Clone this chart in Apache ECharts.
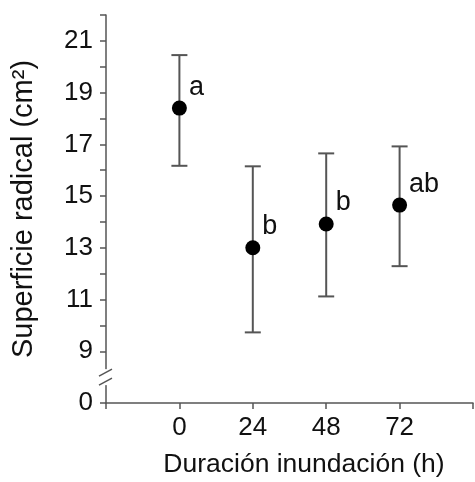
<!DOCTYPE html>
<html><head><meta charset="utf-8">
<script src="https://cdn.jsdelivr.net/npm/echarts@6/dist/echarts.min.js"></script>
<style>html,body{margin:0;padding:0;background:#fff}#c{width:475px;height:482px}</style>
</head><body><div id="c"></div>
<script>
const hours = [0, 24, 48, 72];
const means = [18.4, 13.0, 13.92, 14.65];
const upper = [20.45, 16.15, 16.65, 16.92];
const lower = [16.17, 9.73, 11.12, 12.29];
const letters = ['a', 'b', 'b', 'ab'];
const xTickLabels = [0, 24, 48, 72];
const yTickLabels = [0, 9, 11, 13, 15, 17, 19, 21];
const yBreak = [1, 8];

const FONT = '"Liberation Sans", Arial, sans-serif';
const AX = '#555';
const TXT = '#111';
const chart = echarts.init(document.getElementById('c'), null, {renderer: 'canvas'});

const option = {
  animation: false,
  backgroundColor: '#fff',
  grid: {left: 106, right: 2, top: 15, bottom: 79, containLabel: false, outerBoundsMode: 'none'},
  xAxis: {
    type: 'value', min: -24, max: 96, interval: 24,
    name: 'Duración inundación (h)', nameLocation: 'middle', nameGap: 48, nameMoveOverlap: false,
    nameTextStyle: {fontFamily: FONT, fontSize: 26.5, color: TXT, padding: [0, 0, 0, 29]},
    axisLine: {show: true, onZero: false, lineStyle: {color: AX, width: 1.5}},
    axisTick: {show: true, length: 6, lineStyle: {color: AX, width: 1.5}},
    axisLabel: {margin: 12, fontFamily: FONT, fontSize: 26, color: TXT,
      formatter: v => xTickLabels.includes(v) ? String(v) : ''},
    splitLine: {show: false}
  },
  yAxis: {
    type: 'value', min: 0, max: 22, interval: 1,
    breaks: [{start: yBreak[0], end: yBreak[1], gap: 0}],
    breakArea: {show: false},
    name: 'Superficie radical (cm²)', nameLocation: 'middle', nameGap: 68, nameRotate: 90, nameMoveOverlap: false,
    nameTextStyle: {fontFamily: FONT, fontSize: 29, color: TXT},
    axisLine: {show: true, onZero: false, lineStyle: {color: AX, width: 1.5}},
    axisTick: {show: true, length: 6, lineStyle: {color: AX, width: 1.5}},
    axisLabel: {margin: 13, fontFamily: FONT, fontSize: 26, color: TXT,
      formatter: v => yTickLabels.includes(v) ? String(v) : ''},
    splitLine: {show: false}
  },
  series: [
    {
      type: 'custom',
      data: hours.map((h, i) => [h, lower[i], upper[i]]),
      renderItem: function (params, api) {
        const x = api.value(0);
        const pb = api.coord([x, api.value(1)]);
        const pt = api.coord([x, api.value(2)]);
        const hw = 8;
        const st = {stroke: AX, lineWidth: 2};
        return {type: 'group', children: [
          {type: 'line', shape: {x1: pt[0], y1: pt[1], x2: pb[0], y2: pb[1]}, style: st},
          {type: 'line', shape: {x1: pt[0] - hw, y1: pt[1], x2: pt[0] + hw, y2: pt[1]}, style: st},
          {type: 'line', shape: {x1: pb[0] - hw, y1: pb[1], x2: pb[0] + hw, y2: pb[1]}, style: st}
        ]};
      },
      z: 2
    },
    {
      type: 'scatter',
      data: hours.map((h, i) => [h, means[i]]),
      symbol: 'circle', symbolSize: 15,
      itemStyle: {color: '#000', opacity: 1},
      label: {show: true, position: 'right', distance: 2, offset: [0, -21],
        fontFamily: FONT, fontSize: 27, color: TXT,
        formatter: p => letters[p.dataIndex]},
      z: 3
    }
  ]
};
chart.setOption(option);

// axis-break marks on the y axis, positioned from the axis scale
const pb = chart.convertToPixel({gridIndex: 0}, [-24, yBreak[0]]);
const bx = pb[0], by = pb[1];
chart.setOption({graphic: [
  {type: 'rect', z: 100, shape: {x: bx - 9, y: by - 8, width: 12, height: 16}, style: {fill: '#fff'}},
  {type: 'line', z: 101, shape: {x1: bx - 7, y1: by - 1, x2: bx + 6, y2: by - 8}, style: {stroke: AX, lineWidth: 1.5}},
  {type: 'line', z: 101, shape: {x1: bx - 7, y1: by + 8, x2: bx + 6, y2: by + 1}, style: {stroke: AX, lineWidth: 1.5}}
]});
</script></body></html>
